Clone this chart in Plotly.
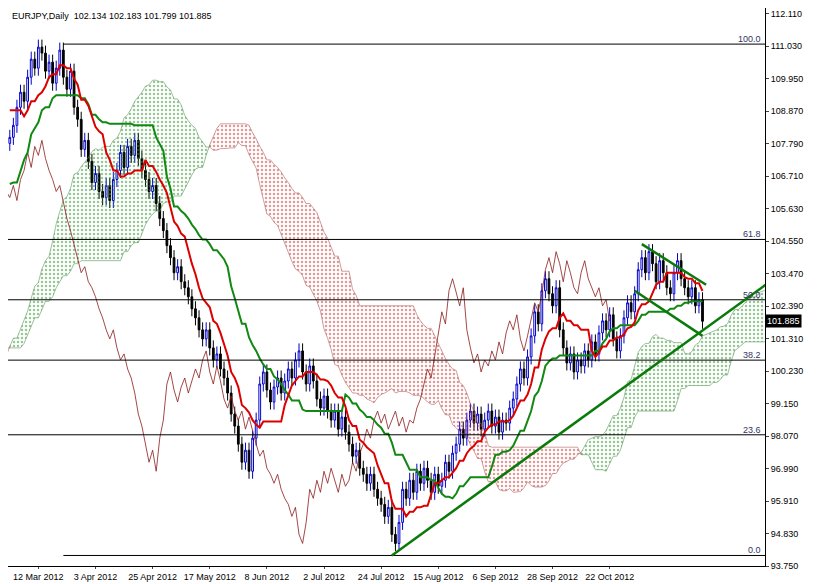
import plotly.graph_objects as go
import numpy as np

pre_closes = [104.0,103.6,103.2,103.8,104.2,103.5,103.0,102.6,103.1,103.4,103.8,104.0,103.6,103.2,102.8,102.0,101.5,101.8,101.2,100.8,
101.3,101.0,100.6,100.2,100.5,100.0,99.6,99.8,99.3,98.9,98.6,99.0,98.5,98.2,97.8,98.3,98.0,98.6,99.2,99.6,
99.9,100.4,100.1,100.6,101.0,100.7,101.2,101.5,101.1,101.6,102.0,102.5,102.9,103.4,103.0,103.8,104.5,105.0,105.6,106.2,
106.0,106.8,107.3,107.0,107.6,108.2,108.6,109.0,108.5,109.3,109.8,109.4,110.0,109.6,108.9,109.2,108.5,107.8]
closes = [108.0,108.4,109.0,109.5,109.2,110.0,110.6,110.3,111.0,110.8,
110.2,110.5,109.8,110.3,110.9,110.0,109.6,110.2,109.0,108.6,
107.6,107.9,107.2,106.5,106.8,106.2,106.0,106.4,105.9,106.6,
106.9,107.5,107.0,107.7,107.4,107.9,107.3,106.9,106.6,106.2,
106.4,105.8,105.3,104.9,104.4,104.0,103.5,103.7,103.2,103.0,
102.7,102.3,102.0,101.6,101.3,101.6,101.0,100.6,100.8,100.3,
100.0,99.5,98.8,98.4,97.8,97.2,97.6,96.9,98.0,98.6,
99.8,100.2,99.6,99.2,99.7,100.0,99.5,99.9,100.3,100.0,
100.6,100.9,100.2,99.8,100.4,99.9,99.3,99.0,99.4,98.9,
98.6,98.9,98.3,98.7,98.2,97.8,97.4,97.6,97.0,96.8,
96.5,96.8,96.3,96.0,95.8,95.4,95.7,94.8,94.5,95.2,
96.3,96.0,96.6,96.2,96.9,96.5,97.0,96.6,96.2,96.8,
96.4,96.6,97.2,96.9,97.5,97.8,98.3,98.0,98.6,98.9,
98.5,98.8,98.3,98.6,98.9,98.4,98.7,98.2,98.6,98.5,
99.0,99.3,99.8,100.3,100.0,100.7,101.4,102.2,101.8,102.9,
103.3,102.8,102.4,103.0,101.6,101.0,100.5,100.8,100.2,100.6,
100.4,100.9,100.6,101.2,100.8,101.5,101.9,101.6,102.1,101.3,
100.9,101.4,102.0,102.5,102.2,102.8,103.6,104.0,103.5,104.2,
103.8,103.2,103.9,103.5,103.0,102.8,103.5,103.9,103.3,103.0,
102.7,103.0,102.4,102.6,101.885]
date_labels = ["12 Mar 2012","3 Apr 2012","25 Apr 2012","17 May 2012","8 Jun 2012","2 Jul 2012",
               "24 Jul 2012","15 Aug 2012","6 Sep 2012","28 Sep 2012","22 Oct 2012"]
label_bars = [8,24,40,56,72,88,104,120,136,152,168]
fib_hi, fib_lo = 111.1, 94.1
fib_levels = [0.0, 23.6, 38.2, 50.0, 61.8, 100.0]
trend_lines = [((107, 94.1), (214, 103.3)), ((177, 104.45), (195, 103.1)), ((175, 102.9), (194, 101.4))]
y_ticks = [112.110,111.030,109.950,108.870,107.790,106.710,105.630,104.550,103.470,102.390,
           101.310,100.230,99.150,98.070,96.990,95.910,94.830,93.750]

FONT = "Liberation Sans"
P = len(pre_closes)
allc = np.array(pre_closes + closes)
allo = np.concatenate([[allc[0]], allc[:-1]])
allh = np.maximum(allc, allo) + 0.25
alll = np.minimum(allc, allo) - 0.25
N = len(allc)
def mid(n, i):
    if i < n - 1: return np.nan
    return (allh[i-n+1:i+1].max() + alll[i-n+1:i+1].min()) / 2
tenkan = np.array([mid(9, i) for i in range(N)])
kijun = np.array([mid(26, i) for i in range(N)])
spanA = (tenkan + kijun) / 2
spanB = np.array([mid(52, i) for i in range(N)])
xall = np.arange(N) - P
sx = xall + 26
mask = sx >= -1
sx, sA, sB = sx[mask], spanA[mask], spanB[mask]

fig = go.Figure()
seg_start = 0
bull = sA >= sB
def add_seg(a, b, up):
    xs = list(sx[a:b+1]) + list(sx[a:b+1][::-1])
    ys = list(sA[a:b+1]) + list(sB[a:b+1][::-1])
    col = "#2e8b2e" if up else "#c83232"
    fig.add_trace(go.Scatter(x=xs, y=ys, fill="toself", mode="lines",
                             line=dict(width=0.6, color="#5a9a5a" if up else "#b06060"),
                             fillcolor="rgba(0,0,0,0)",
                             fillpattern=dict(shape=".", fgcolor=col, bgcolor="rgba(0,0,0,0)", size=4, solidity=0.3),
                             hoverinfo="skip", showlegend=False))
for i in range(1, len(sx) + 1):
    if i == len(sx) or bull[i] != bull[seg_start]:
        add_seg(seg_start, min(i, len(sx) - 1), bull[seg_start])
        seg_start = i

vis = slice(P, N)
xv = xall[vis]
fig.add_trace(go.Scatter(x=xv - 26, y=allc[vis], mode="lines", line=dict(color="#8b1a1a", width=0.8), showlegend=False))
fig.add_trace(go.Candlestick(x=xv, open=allo[vis], high=allh[vis], low=alll[vis], close=allc[vis],
              increasing=dict(line=dict(color="#0000cc", width=1), fillcolor="white"),
              decreasing=dict(line=dict(color="black", width=1), fillcolor="black"),
              whiskerwidth=0, showlegend=False))
fig.add_trace(go.Scatter(x=xv, y=kijun[vis], mode="lines", line=dict(color="#118811", width=2), showlegend=False))
fig.add_trace(go.Scatter(x=xv, y=tenkan[vis], mode="lines", line=dict(color="#dd0000", width=2), showlegend=False))

for lv in fib_levels:
    y = fib_lo + (fib_hi - fib_lo) * lv / 100
    x0 = 15 if lv in (0.0, 100.0) else -1
    fig.add_shape(type="line", x0=x0, x1=212, y0=y, y1=y, line=dict(color="black", width=1))
    fig.add_annotation(x=211, y=y, text=f"{lv:.1f}", showarrow=False, xanchor="right", yanchor="bottom",
                       font=dict(size=9, color="#333366", family=FONT), yshift=-2)
for (a, b) in trend_lines:
    fig.add_shape(type="line", x0=a[0], y0=a[1], x1=b[0], y1=b[1], line=dict(color="#0a7a0a", width=2.5))

fig.add_annotation(x=1, xref="paper", y=closes[-1], text=f"{closes[-1]:.3f}", showarrow=False, xanchor="left",
                   bgcolor="black", font=dict(color="white", size=9, family=FONT), borderpad=1)
fig.add_annotation(x=0.003, y=0.998, xref="paper", yref="paper", xanchor="left", yanchor="top", showarrow=False,
                   text="EURJPY,Daily  102.134 102.183 101.799 101.885", font=dict(size=9, color="black", family=FONT))

fig.update_layout(width=817, height=584, margin=dict(l=0, r=60, t=0, b=26), plot_bgcolor="white", paper_bgcolor="white",
                  xaxis=dict(range=[-0.5, 211.5], tickvals=label_bars, ticktext=date_labels, showgrid=False,
                             rangeslider=dict(visible=False), tickangle=0,
                             showline=True, linecolor="black", mirror=True, ticks="outside", ticklen=2,
                             tickfont=dict(size=9, family=FONT, color="black")),
                  yaxis=dict(range=[93.75, 112.3], side="right", tickvals=y_ticks, ticktext=[f"{v:.3f}" for v in y_ticks],
                             showgrid=False, showline=True, linecolor="black", mirror=True, ticks="outside", ticklen=3,
                             tickfont=dict(size=9, family=FONT, color="black")))
fig.write_html("out.html")
